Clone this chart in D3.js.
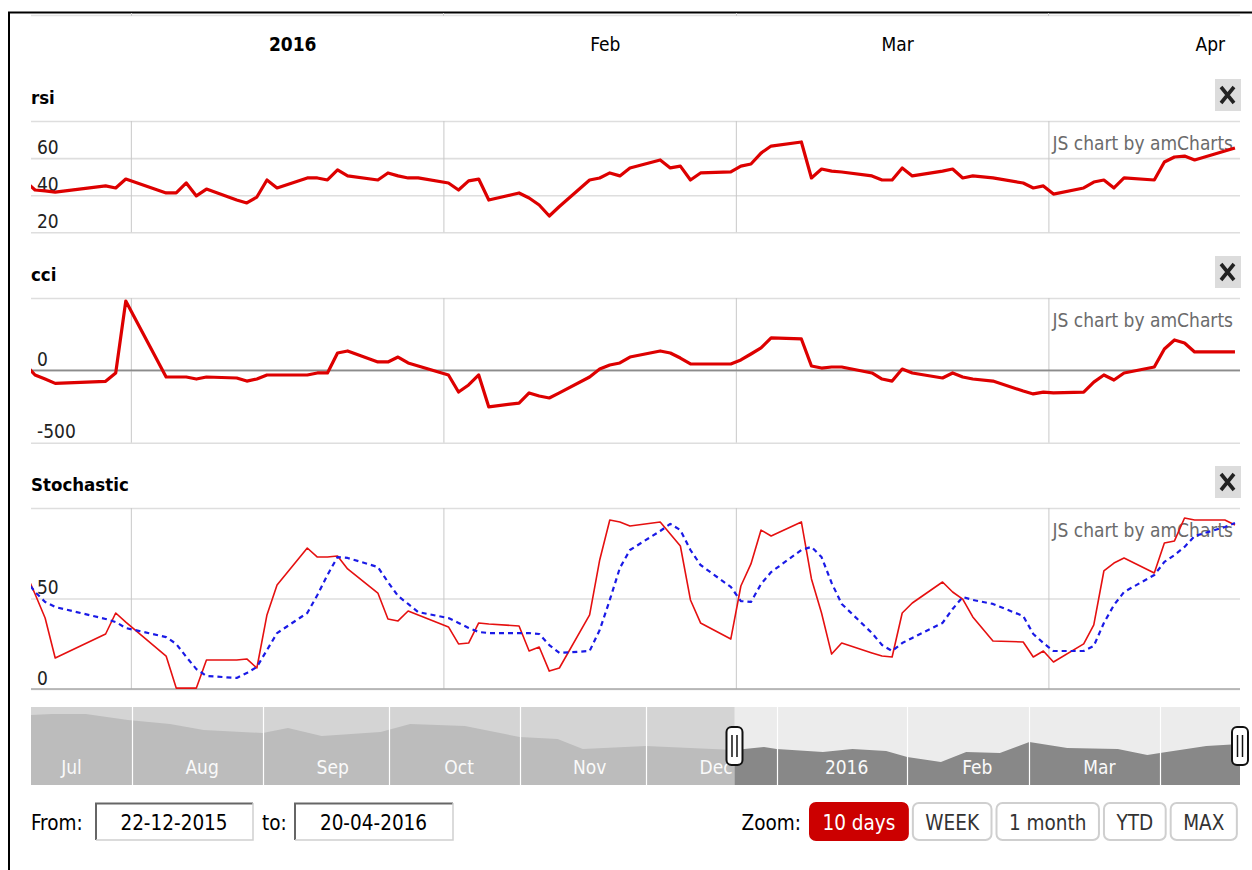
<!DOCTYPE html>
<html><head><meta charset="utf-8">
<script src="https://cdn.jsdelivr.net/npm/d3@7/dist/d3.min.js"></script>
<style>
body{margin:0;background:#fff}
svg{display:block}
text{font-family:'DejaVu Sans Condensed','DejaVu Sans',sans-serif;font-stretch:condensed}
</style>
</head><body>
<svg id="c" width="1252" height="870"></svg>
<script>
// ---------------- DATA ----------------
const dates = [
"2015-12-21","2015-12-22","2015-12-23","2015-12-24","2015-12-29","2015-12-30","2015-12-31",
"2016-01-04","2016-01-05","2016-01-06","2016-01-07","2016-01-08",
"2016-01-11","2016-01-12","2016-01-13","2016-01-14","2016-01-15",
"2016-01-18","2016-01-19","2016-01-20","2016-01-21","2016-01-22",
"2016-01-25","2016-01-26","2016-01-27","2016-01-28","2016-01-29",
"2016-02-01","2016-02-02","2016-02-03","2016-02-04","2016-02-05",
"2016-02-08","2016-02-09","2016-02-10","2016-02-11","2016-02-12",
"2016-02-15","2016-02-16","2016-02-17","2016-02-18","2016-02-19",
"2016-02-22","2016-02-23","2016-02-24","2016-02-25","2016-02-26",
"2016-02-29","2016-03-01","2016-03-02","2016-03-03","2016-03-04",
"2016-03-07","2016-03-08","2016-03-09","2016-03-10","2016-03-11",
"2016-03-14","2016-03-15","2016-03-16","2016-03-17","2016-03-18",
"2016-03-21","2016-03-22","2016-03-23","2016-03-24","2016-03-26",
"2016-03-29","2016-03-30","2016-03-31","2016-04-01",
"2016-04-04","2016-04-05","2016-04-06","2016-04-07","2016-04-08",
"2016-04-11","2016-04-12","2016-04-13","2016-04-14","2016-04-15",
"2016-04-18","2016-04-19"];

const rsiValues = [
47.7,42.8,42.3,41.7,45.0,43.9,48.7,
41.2,41.2,46.6,39.6,43.3,
37.4,35.8,39.0,48.2,43.9,
49.3,49.3,48.2,53.6,50.4,
48.2,52.0,50.4,49.3,49.3,
46.6,42.8,47.7,48.7,37.4,
41.2,38.5,34.7,28.8,33.9,
48.2,49.3,52.0,50.4,54.7,
59.0,54.7,55.7,48.2,52.0,
52.6,55.7,56.8,62.7,66.5,
68.7,49.3,54.1,53.0,52.5,
50.4,48.2,48.2,54.7,50.4,
53.0,54.1,49.3,50.4,49.3,
46.6,43.9,45.0,40.6,
43.9,47.1,48.2,43.9,49.3,
48.2,57.9,60.6,61.1,59.0,
63.8,65.4];

const cciValues = [
44,-32,-60,-90,-76,-18,479,
-46,-46,-46,-60,-46,
-53,-74,-60,-32,-32,
-32,-18,-18,120,134,
58,58,92,51,30,
-32,-150,-101,-32,-253,
-226,-156,-177,-191,-156,
-46,9,37,51,92,
134,120,85,44,44,
44,72,113,155,224,
217,30,16,23,23,
-18,-60,-74,9,-18,
-53,-18,-46,-60,-74,
-143,-163,-150,-156,
-150,-81,-32,-67,-18,
23,148,210,189,127,
127,127];

const stochK = [
65.2,52.5,39.2,17.1,30.4,42.0,37.0,
18.2,0.5,0.5,0.5,16.0,
16.0,16.6,11.6,40.9,57.5,
77.9,72.9,72.9,73.5,66.3,
53.0,38.7,37.6,43.1,40.9,
34.3,24.9,25.4,36.5,35.9,
34.8,21.0,23.2,9.9,11.6,
40.9,71.3,93.4,92.3,90.1,
92.3,85.6,79.0,49.2,36.5,
27.6,56.9,69.1,87.8,84.5,
92.3,60.8,42.0,19.3,25.4,
19.9,18.2,17.7,42.0,47.5,
59.1,53.6,49.7,39.8,26.5,
26.0,17.7,21.0,14.9,
24.9,35.4,65.2,69.6,72.4,
64.1,80.7,81.8,94.5,93.4,
93.4,90.6];

const stochD = [
60.8,53.6,48.1,45.3,38.7,37.0,33.7,
28.7,24.9,17.7,11.0,7.2,
6.1,8.8,12.2,21.5,30.9,
42.0,51.9,63.0,72.9,72.4,
67.4,59.1,51.4,47.0,42.5,
39.2,36.5,33.7,31.5,30.9,
30.9,30.9,30.4,24.3,19.9,
21.0,32.6,49.2,66.9,76.8,
87.3,91.2,87.8,76.8,68.5,
56.4,48.6,48.1,58.0,64.6,
76.8,78.5,72.9,58.6,47.0,
30.9,24.3,21.0,25.4,28.2,
36.5,44.2,50.8,49.2,47.0,
40.3,30.4,25.4,21.0,
21.0,23.8,36.5,46.4,53.6,
63.0,70.2,74.0,78.5,84.5,
89.5,91.7];

const scrollDates = ["2015-07-08","2015-07-13","2015-07-21","2015-07-31","2015-08-10","2015-08-18",
"2015-09-01","2015-09-07","2015-09-15","2015-09-29","2015-10-06","2015-10-19","2015-11-01",
"2015-11-10","2015-11-16","2015-12-01","2015-12-22","2015-12-29","2016-01-01","2016-01-12",
"2016-01-19","2016-01-27","2016-02-01","2016-02-09","2016-02-15","2016-02-23","2016-03-01",
"2016-03-10","2016-03-22","2016-03-29","2016-04-01","2016-04-12","2016-04-20"];
const scrollValues = [70,71,71,65,61,55,52,57,49,53,61,59,48,46,36,39,35,38,36,33,36,34,28,23,33,32,43,37,36,30,32,39,41];

const rsiTicks = [20,40,60,80];
const cciTicks = [-500,0,500];
const stochTicks = [0,50,100];
const zoomButtons = ["10 days","WEEK","1 month","YTD","MAX"];
const fromDate = "22-12-2015", toDate = "20-04-2016";
const watermark = "JS chart by amCharts";

// ---------------- DRAW ----------------
const FONT = "'DejaVu Sans Condensed','DejaVu Sans',sans-serif";
const svg = d3.select('#c');
svg.append('rect').attr('width',1252).attr('height',870).attr('fill','#fff');
const parse = d3.timeParse('%Y-%m-%d');
const pts = dates.map(s => d3.timeHour.offset(parse(s), 12));
const X0 = 31, X1 = 1240;
const x = d3.scaleTime().domain([new Date(2015,11,22), new Date(2016,3,20)]).range([30, 1240]);
const monthStarts = d3.timeMonth.range(new Date(2016,0,1), new Date(2016,3,2));

const defs = svg.append('defs');
defs.append('clipPath').attr('id','plotclip').append('rect')
  .attr('x',X0).attr('y',0).attr('width',X1-X0).attr('height',870);

// frame
svg.append('path').attr('d','M9,870V12.5H1252').attr('fill','none').attr('stroke','#000').attr('stroke-width',2);
// bottom edge of main chart above (scrolled out)
svg.append('line').attr('x1',X0).attr('x2',X1).attr('y1',15.5).attr('y2',15.5).attr('stroke','#e3e3e3').attr('stroke-width',1.5);
svg.selectAll('.topTick').data(monthStarts).enter().append('line')
  .attr('x1',d=>Math.round(x(d))+0.5).attr('x2',d=>Math.round(x(d))+0.5).attr('y1',13).attr('y2',16)
  .attr('stroke','#ccc');

// top category axis labels
const topAxis = d3.axisTop(x)
  .tickValues(monthStarts.map(m => d3.timeDay.offset(m,16)))
  .tickSize(0)
  .tickFormat(d => d.getMonth()===0 ? d3.timeFormat('%Y')(d) : d3.timeFormat('%b')(d));
const ta = svg.append('g').attr('transform','translate(0,44)').call(topAxis)
  .attr('font-family',FONT).attr('font-size',19);
ta.select('.domain').remove();
ta.selectAll('text').attr('y',0).attr('dy','0.35em').attr('fill','#000')
  .attr('font-weight',d => d.getMonth()===0 ? 'bold':'normal');

const panels = [
  {title:'rsi', top:121, bottom:232.3, domain:[20,80], ticks:rsiTicks, series:[{v:rsiValues,color:'#dd0000',w:3.2}]},
  {title:'cci', top:298, bottom:442.7, domain:[-500,500], ticks:cciTicks, zero:true, series:[{v:cciValues,color:'#dd0000',w:3.2}]},
  {title:'Stochastic', top:508, bottom:689, domain:[0,100], ticks:stochTicks, baseLine:true,
    series:[{v:stochK,color:'#e51010',w:1.6},{v:stochD,color:'#1a1ae6',w:2.2,dash:'5,4'}]}
];

panels.forEach(p => {
  const y = d3.scaleLinear().domain(p.domain).range([p.bottom, p.top]);
  const g = svg.append('g');
  // title
  g.append('text').attr('x',X0).attr('y',p.top-23).attr('dy','0.35em')
    .attr('font-size',18.5).attr('font-weight','bold').attr('fill','#000').text(p.title);
  // close button
  const bx = 1215, by = p.top-42;
  g.append('rect').attr('x',bx).attr('y',by).attr('width',26).attr('height',32).attr('fill','#dcdcdc');
  g.append('path').attr('d',`M${bx+6},${by+8}L${bx+19},${by+24}M${bx+19},${by+8}L${bx+6},${by+24}`)
    .attr('stroke','#222').attr('stroke-width',3.6);
  // horizontal gridlines
  const ya = d3.axisLeft(y).tickValues(p.ticks).tickSize(-(X1-X0)).tickFormat('');
  const yg = g.append('g').attr('transform',`translate(${X0},0)`).call(ya);
  yg.select('.domain').remove();
  yg.selectAll('line').attr('stroke','#dedede').attr('stroke-width',1.6);
  // vertical gridlines
  const xa = d3.axisBottom(x).tickValues(monthStarts).tickSize(-(p.bottom-p.top)).tickFormat('');
  const xg = g.append('g').attr('transform',`translate(0,${p.bottom})`).call(xa);
  xg.select('.domain').remove();
  xg.selectAll('line').attr('stroke','#c8c8c8').attr('stroke-width',1);
  if (p.zero) {
    g.append('line').attr('x1',X0).attr('x2',X1).attr('y1',y(0)).attr('y2',y(0))
      .attr('stroke','#8c8c8c').attr('stroke-width',1.6);
  }
  if (p.baseLine) {
    g.append('line').attr('x1',X0).attr('x2',X1).attr('y1',p.bottom).attr('y2',p.bottom)
      .attr('stroke','#a8a8a8').attr('stroke-width',1.3);
  }
  // tick labels (top tick unlabeled)
  g.selectAll('.yl').data(p.ticks.filter(t => t !== p.domain[1])).enter().append('text')
    .attr('x',37).attr('y',t => y(t)-11).attr('dy','0.35em')
    .attr('font-size',19).attr('fill','#222').text(t => t);
  // watermark
  g.append('text').attr('x',1233).attr('y',p.top+22).attr('dy','0.35em').attr('text-anchor','end')
    .attr('font-size',19).attr('fill','#6b6b6b').text(watermark);
  // series
  const lg = g.append('g').attr('clip-path','url(#plotclip)');
  p.series.forEach(s => {
    const line = d3.line().x((d,i) => x(pts[i])).y(d => y(d));
    lg.append('path').datum(s.v).attr('d',line).attr('fill','none')
      .attr('stroke',s.color).attr('stroke-width',s.w).attr('stroke-linejoin','round')
      .attr('stroke-dasharray',s.dash || null);
  });
});

// ---------------- SCROLLBAR ----------------
const sTop = 707, sBot = 785;
const xs = d3.scaleTime().domain([new Date(2015,6,8), new Date(2016,3,20)]).range([X0, X1]);
const ys = d3.scaleLinear().domain([0,78]).range([sBot, sTop]);
const sdata = scrollDates.map((s,i) => ({date:parse(s), v:scrollValues[i]}));
const selStart = new Date(2015,11,22), selEnd = new Date(2016,3,20);
const sx0 = xs(selStart), sx1 = xs(selEnd);
svg.append('rect').attr('x',X0).attr('y',sTop).attr('width',X1-X0).attr('height',sBot-sTop).attr('fill','#d4d4d4');
const area = d3.area().x(d => xs(d.date)).y0(sBot).y1(d => ys(d.v));
svg.append('path').datum(sdata).attr('d',area).attr('fill','#bcbcbc');
svg.append('rect').attr('x',sx0).attr('y',sTop).attr('width',sx1-sx0).attr('height',sBot-sTop).attr('fill','#ececec');
defs.append('clipPath').attr('id','selclip').append('rect')
  .attr('x',sx0).attr('y',sTop).attr('width',sx1-sx0).attr('height',sBot-sTop);
svg.append('path').datum(sdata).attr('d',area).attr('fill','#888888').attr('clip-path','url(#selclip)');
const sMonths = d3.timeMonth.range(new Date(2015,7,1), new Date(2016,3,2));
svg.selectAll('.sdiv').data(sMonths).enter().append('line')
  .attr('x1',d => Math.round(xs(d))+0.5).attr('x2',d => Math.round(xs(d))+0.5)
  .attr('y1',sTop).attr('y2',sBot).attr('stroke','#fff').attr('stroke-width',1.2);
const sLabelMonths = d3.timeMonth.range(new Date(2015,6,1), new Date(2016,2,2));
const sAxis = d3.axisBottom(xs).tickValues(sLabelMonths.map(m => d3.timeHour.offset(m, 396))).tickSize(0)
  .tickFormat(d => d.getMonth()===0 ? d3.timeFormat('%Y')(d) : d3.timeFormat('%b')(d));
const sa = svg.append('g').attr('transform','translate(0,767)').call(sAxis)
  .attr('font-family',FONT).attr('font-size',19);
sa.select('.domain').remove();
sa.selectAll('text').attr('y',0).attr('dy','0.35em').attr('fill','#fafafa');
// handles
[sx0, sx1].forEach(hx => {
  const hg = svg.append('g');
  hg.append('rect').attr('x',hx-8).attr('y',727).attr('width',16).attr('height',38).attr('rx',5)
    .attr('fill','#fff').attr('stroke','#111').attr('stroke-width',2);
  [-2.5,2.5].forEach(o => hg.append('line').attr('x1',hx+o).attr('x2',hx+o).attr('y1',735).attr('y2',757)
    .attr('stroke','#111').attr('stroke-width',1.5));
});

// ---------------- PERIOD SELECTOR ----------------
const cy = 823, FS = 20.5;
svg.append('text').attr('x',X0).attr('y',cy).attr('dy','0.35em').attr('font-size',FS).attr('fill','#000').text('From:');
function inputBox(x0, w, txt) {
  const g = svg.append('g');
  g.append('rect').attr('x',x0).attr('y',803).attr('width',w).attr('height',37).attr('fill','#fff');
  g.append('path').attr('d',`M${x0+w},803.5H${x0+1}V840`).attr('fill','none').attr('stroke','#666').attr('stroke-width',2);
  g.append('path').attr('d',`M${x0+1},840H${x0+w}V803`).attr('fill','none').attr('stroke','#d0d0d0').attr('stroke-width',1.5);
  g.append('text').attr('x',x0+w/2).attr('y',cy).attr('dy','0.35em').attr('text-anchor','middle')
    .attr('font-size',FS).attr('fill','#000').text(txt);
}
inputBox(95, 158, fromDate);
svg.append('text').attr('x',262).attr('y',cy).attr('dy','0.35em').attr('font-size',FS).attr('fill','#000').text('to:');
inputBox(294, 159, toDate);
svg.append('text').attr('x',801).attr('y',cy).attr('dy','0.35em').attr('text-anchor','end')
  .attr('font-size',FS).attr('fill','#000').text('Zoom:');
let bx = 810;
zoomButtons.forEach((b,i) => {
  const g = svg.append('g');
  const t = g.append('text').attr('y',cy).attr('dy','0.35em').attr('text-anchor','middle')
    .attr('font-size',FS).attr('fill', i===0 ? '#fff' : '#333').text(b);
  const tw = t.node().getComputedTextLength();
  const w = tw + 25;
  g.insert('rect','text').attr('x',bx).attr('y',803).attr('width',w).attr('height',37).attr('rx',6)
    .attr('fill', i===0 ? '#cc0000' : '#fff').attr('stroke', i===0 ? '#cc0000' : '#cfcfcf').attr('stroke-width',2);
  t.attr('x', bx + w/2);
  bx += w + 5;
});
</script>
</body></html>
